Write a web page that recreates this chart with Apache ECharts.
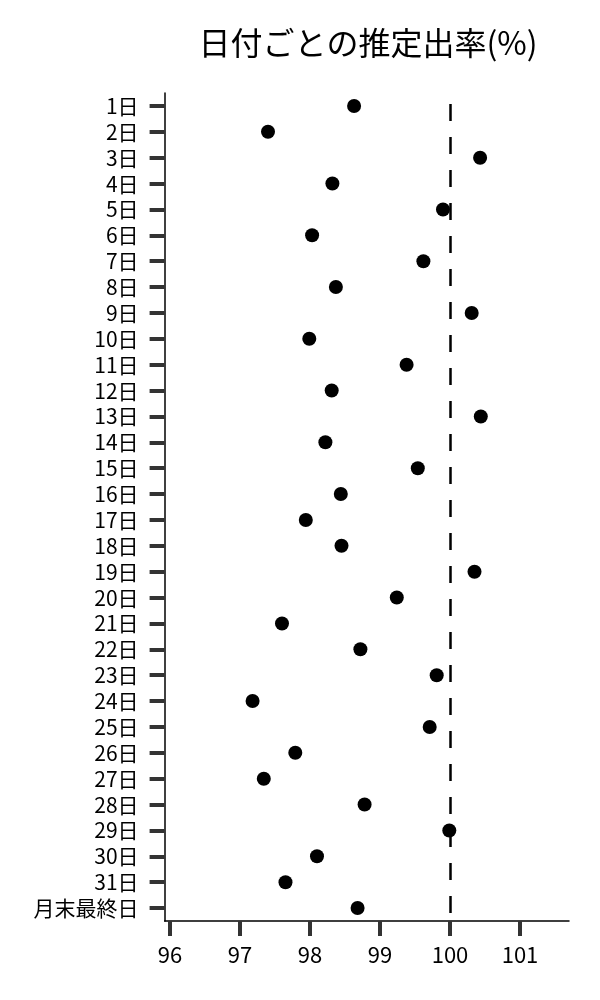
<!DOCTYPE html>
<html>
<head>
<meta charset="utf-8">
<script src="https://cdn.jsdelivr.net/npm/echarts@6/dist/echarts.min.js"></script>
<style>
html,body{margin:0;padding:0;background:#fff;}
#main{width:600px;height:1000px;}
</style>
</head>
<body>
<div id="main"></div>
<script>
const categories = ['1日','2日','3日','4日','5日','6日','7日','8日','9日','10日','11日','12日','13日','14日','15日','16日','17日','18日','19日','20日','21日','22日','23日','24日','25日','26日','27日','28日','29日','30日','31日','月末最終日'];
const rates = [98.63,97.40,100.43,98.32,99.90,98.03,99.62,98.37,100.31,97.99,99.38,98.31,100.44,98.22,99.54,98.44,97.94,98.45,100.35,99.24,97.60,98.72,99.81,97.18,99.71,97.79,97.34,98.78,99.99,98.10,97.65,98.68];
const xTicks = [96,97,98,99,100,101];
const refValue = 100;
const titleText = '日付ごとの推定出率(%)';

const FONT = '"Noto Sans CJK JP","Noto Sans",sans-serif';
const chart = echarts.init(document.getElementById('main'), null, {renderer:'canvas'});
chart.setOption({
  animation:false,
  backgroundColor:'#fff',
  title:{
    text:titleText, left:363, top:22, textAlign:'center',
    textStyle:{fontFamily:FONT, fontSize:32, fontWeight:'normal', color:'#000'}
  },
  grid:{left:164.6, right:31, top:93, bottom:79, containLabel:false},
  xAxis:{
    type:'value', min:95.923, max:101.7,
    axisLine:{show:true, onZero:false, lineStyle:{color:'#000', width:1.5}},
    axisTick:{show:true, length:15, customValues:xTicks, lineStyle:{color:'#333', width:4}},
    axisLabel:{show:true, customValues:xTicks, margin:23, fontFamily:FONT, fontSize:22, color:'#000'},
    splitLine:{show:false}
  },
  yAxis:{
    type:'category', data:categories, inverse:true,
    axisLine:{show:true, lineStyle:{color:'#000', width:1.5}},
    axisTick:{show:true, length:15, interval:0, alignWithLabel:true, lineStyle:{color:'#333', width:4}},
    axisLabel:{interval:0, margin:26, fontFamily:FONT, fontSize:21, color:'#000'},
    splitLine:{show:false}
  },
  series:[{
    type:'scatter',
    data:rates,
    symbol:'circle',
    symbolSize:14,
    itemStyle:{color:'#000', opacity:1},
    markLine:{
      silent:true, symbol:'none', label:{show:false},
      lineStyle:{color:'#000', width:2.5, type:[17,16], dashOffset:22},
      data:[{xAxis:refValue}]
    }
  }]
});
</script>
</body>
</html>
